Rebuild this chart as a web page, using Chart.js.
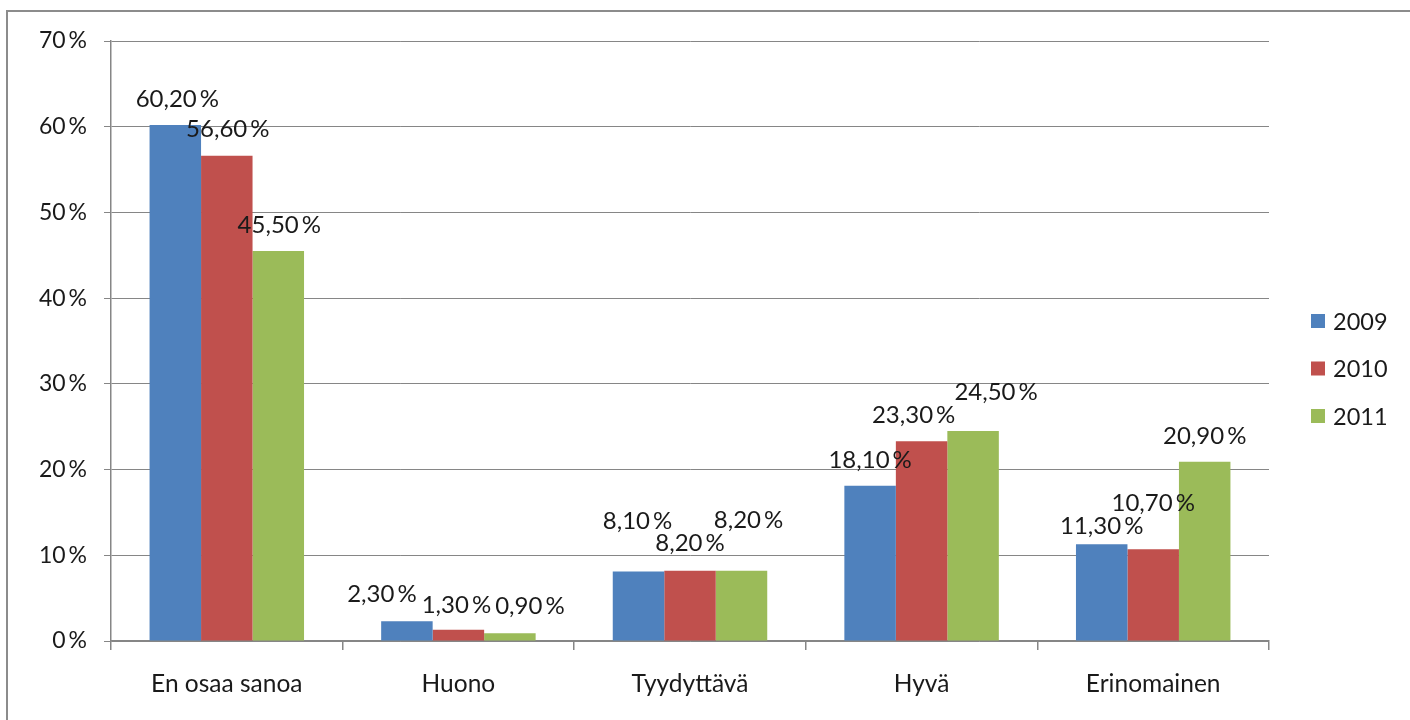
<!DOCTYPE html>
<html>
<head>
<meta charset="utf-8">
<script src="https://cdn.jsdelivr.net/npm/chart.js@4.4.1/dist/chart.umd.min.js"></script>
<style>
    html, body { margin: 0; padding: 0; background: #fff; }
    #wrap { position: relative; width: 1410px; height: 720px; overflow: hidden; }
    #frame {
        position: absolute; left: 6px; top: 10px; width: 1500px; height: 800px;
        border-top: 2px solid #8c8c8c; border-left: 2px solid #8c8c8c;
    }
    canvas { position: absolute; left: 0; top: 0; }
</style>
</head>
<body>
<div id="wrap">
    <div id="frame"></div>
    <canvas id="chart" width="1410" height="720"></canvas>
</div>
<script>
const categories = ["En osaa sanoa", "Huono", "Tyydyttävä", "Hyvä", "Erinomainen"];
const years = ["2009", "2010", "2011"];
const values2009 = [60.2, 2.3, 8.1, 18.1, 11.3];
const values2010 = [56.6, 1.3, 8.2, 23.3, 10.7];
const values2011 = [45.5, 0.9, 8.2, 24.5, 20.9];
const yTicks = [0, 10, 20, 30, 40, 50, 60, 70];

const colors = ["#4F81BD", "#C0504D", "#9BBB59"];
const axisGray = "#868686";
const fontFam = "Lato, 'Open Sans', sans-serif";

// käsin siirretyt etiketit (px), sarja x kategoria
const labelDx = [
    [2, -25, -1, 0, 0],
    [1, -2, 0, -8, 0],
    [1, 20, 7, 23, 0]
];
const labelDy = [
    [-27, -28, -51, -27, -19],
    [-28, -26, -28, -27, -47],
    [-27, -28, -51, -40, -27]
];

// etiketit pylväiden yläpuolelle, muoto "60,20 %"
const valueLabels = {
    id: "valueLabels",
    afterDatasetsDraw(chart) {
        const ctx = chart.ctx;
        ctx.save();
        ctx.font = "24px " + fontFam;
        ctx.fillStyle = "#1a1a1a";
        ctx.textAlign = "center";
        ctx.textBaseline = "middle";
        chart.data.datasets.forEach((ds, i) => {
            chart.getDatasetMeta(i).data.forEach((bar, j) => {
                const txt = ds.data[j].toFixed(2).replace(".", ",") + "\u2009%";
                ctx.fillText(txt, bar.x + labelDx[i][j], bar.y + labelDy[i][j] + 1);
            });
        });
        ctx.restore();
    }
};

// selite oikealla
const sideLegend = {
    id: "sideLegend",
    afterDraw(chart) {
        const ctx = chart.ctx;
        ctx.save();
        ctx.font = "23.5px " + fontFam;
        ctx.textBaseline = "middle";
        ctx.textAlign = "left";
        chart.data.datasets.forEach((ds, i) => {
            const y = 321 + i * 47.5;
            ctx.fillStyle = ds.backgroundColor;
            ctx.fillRect(1311, y - 7, 14, 14);
            ctx.fillStyle = "#1a1a1a";
            ctx.fillText(ds.label, 1333, y + 1);
        });
        ctx.restore();
    }
};

new Chart(document.getElementById("chart"), {
    type: "bar",
    data: {
        labels: categories,
        datasets: [values2009, values2010, values2011].map((d, i) => ({
            label: years[i],
            data: d,
            backgroundColor: colors[i],
            borderWidth: 0,
            categoryPercentage: 0.667,
            barPercentage: 1.0
        }))
    },
    options: {
        responsive: false,
        animation: false,
        layout: { padding: { left: 0, top: 41, right: 141, bottom: 0 } },
        plugins: {
            legend: { display: false },
            tooltip: { enabled: false }
        },
        scales: {
            x: {
                offset: true,
                grid: {
                    offset: true,
                    drawOnChartArea: false,
                    color: axisGray,
                    lineWidth: 1.5,
                    tickLength: 9
                },
                border: { color: axisGray, width: 1.5 },
                ticks: {
                    color: "#1a1a1a",
                    font: { family: fontFam, size: 24.5 },
                    padding: 19,
                    maxRotation: 0
                },
                afterFit(scale) { scale.height = 79; }
            },
            y: {
                min: 0,
                max: 70,
                afterBuildTicks(scale) { scale.ticks = yTicks.map(v => ({ value: v })); },
                grid: { color: axisGray, lineWidth: 1, tickLength: 7 },
                border: { color: axisGray, width: 1.5 },
                ticks: {
                    color: "#1a1a1a",
                    font: { family: fontFam, size: 23 },
                    padding: 17,
                    callback: v => v + "\u2009%"
                },
                afterFit(scale) { scale.width = 111; }
            }
        }
    },
    plugins: [valueLabels, sideLegend]
});
</script>
</body>
</html>
